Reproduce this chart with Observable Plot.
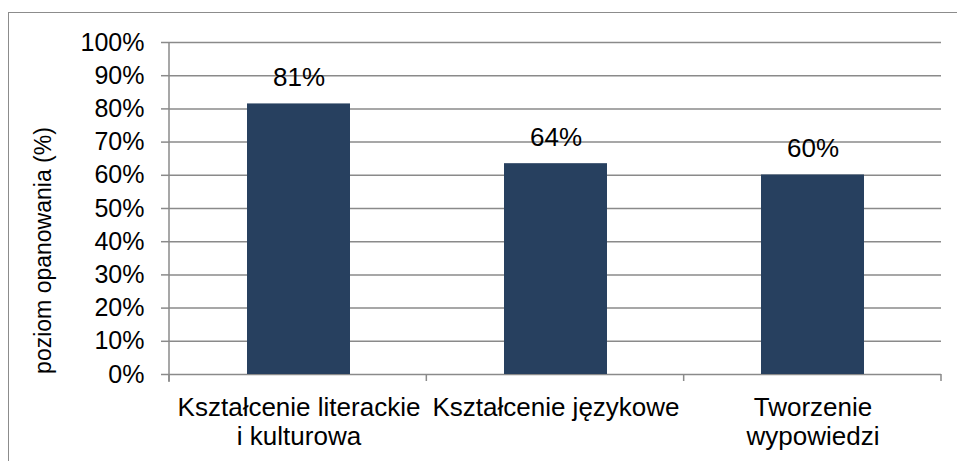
<!DOCTYPE html>
<html><head><meta charset="utf-8">
<script src="https://cdn.jsdelivr.net/npm/d3@7"></script>
<script src="https://cdn.jsdelivr.net/npm/@observablehq/plot@0.6"></script>
<style>
body{margin:0;background:#fff;}
#wrap{position:relative;width:957px;height:461px;overflow:hidden;background:#fff;}
#wrap svg{position:absolute;left:0;top:0;}
#border{position:absolute;left:8px;top:12px;width:2000px;height:2000px;border-left:1.5px solid #8c8c8c;border-top:1.5px solid #8c8c8c;pointer-events:none;}
</style></head><body><div id="wrap"></div>
<script>
const categories = ["Kształcenie literackie\ni kulturowa", "Kształcenie językowe", "Tworzenie\nwypowiedzi"];
const values = [0.815, 0.635, 0.601];
const valueLabels = ["81%", "64%", "60%"];
const yTicks = [0, 0.1, 0.2, 0.3, 0.4, 0.5, 0.6, 0.7, 0.8, 0.9, 1];
const yTickLabels = ["0%", "10%", "20%", "30%", "40%", "50%", "60%", "70%", "80%", "90%", "100%"];
const yTitle = "poziom opanowania (%)";

const data = categories.map((c, i) => ({category: c, value: values[i], label: valueLabels[i]}));
const gray = "#8a8a8a";

function axisLines(index, scales, vals, dims) {
  const y = scales.y;
  const n = categories.length;
  const step = (dims.width - dims.marginLeft - dims.marginRight) / n;
  const g = d3.create("svg:g").attr("stroke", gray).attr("stroke-width", 1.5);
  g.append("line").attr("x1", dims.marginLeft).attr("x2", dims.marginLeft)
    .attr("y1", y(1)).attr("y2", y(0) + 8);
  for (let i = 0; i <= n; i++) {
    const x = dims.marginLeft + i * step;
    g.append("line").attr("x1", x).attr("x2", x).attr("y1", y(0)).attr("y2", y(0) + 7);
  }
  return g.node();
}

const chart = Plot.plot({
  width: 957,
  height: 461,
  marginLeft: 169,
  marginRight: 16,
  marginTop: 42,
  marginBottom: 87,
  style: {fontFamily: "'Liberation Sans', Arial, sans-serif", fontSize: "25px", color: "#000", background: "transparent"},
  x: {domain: categories, paddingInner: 0.6, paddingOuter: 0.3, axis: null},
  y: {domain: [0, 1], axis: null},
  marks: [
    Plot.ruleY(yTicks, {stroke: gray, strokeWidth: 1.5}),
    Plot.barY(data, {x: "category", y: "value", fill: "#27405f"}),
    axisLines,
    Plot.axisY(yTicks, {tickSize: 8, tickPadding: 17, stroke: gray, strokeWidth: 1.5,
      tickFormat: d => yTickLabels[yTicks.indexOf(d)], fontSize: 25, label: null}),
    Plot.axisX({tickSize: 0, tickPadding: 21, lineHeight: 1.12, fontSize: 26, label: null}),
    Plot.text(data, {x: "category", y: "value", text: "label", dy: -26.5, lineAnchor: "middle", fontSize: 26}),
    Plot.text([yTitle], {frameAnchor: "left", rotate: -90, dx: -126, dy: 42, textAnchor: "middle", lineAnchor: "middle", fontSize: 23})
  ]
});
const wrap = document.getElementById("wrap");
wrap.appendChild(chart);
const b = document.createElement("div");
b.id = "border";
wrap.appendChild(b);
</script>
</body></html>
